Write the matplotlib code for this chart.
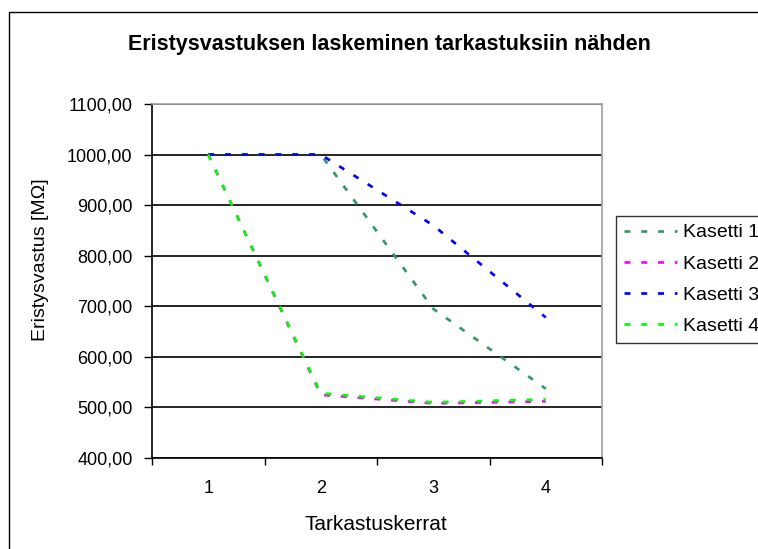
import matplotlib
matplotlib.use("Agg")
import matplotlib.pyplot as plt
from matplotlib.patches import Rectangle
from matplotlib.ticker import FuncFormatter, FixedLocator

plt.rcParams["font.family"] = ["Liberation Sans", "DejaVu Sans"]

# data
kerrat = [1, 2, 3, 4]
kasetti1 = [1000, 1000, 695, 537]
kasetti2 = [1000, 525, 508, 512]
kasetti3 = [1000, 1000, 860, 678]
kasetti4 = [1000, 528, 510, 516]
series = [("Kasetti 1", kasetti1, "#339966"),
          ("Kasetti 2", kasetti2, "#ff00ff"),
          ("Kasetti 3", kasetti3, "#0000ff"),
          ("Kasetti 4", kasetti4, "#00ff00")]

W, H = 758, 549
fig = plt.figure(figsize=(W / 100, H / 100), dpi=100)
fig.patches.append(Rectangle((9 / W, 1 - 12 / H), 1, -1, transform=fig.transFigure,
                             fill=False, edgecolor="#000000", linewidth=1.0))

ax = fig.add_axes([152 / W, 1 - 458 / H, 450 / W, 354 / H])
for name, vals, col in series:
    ax.plot(kerrat, vals, linestyle=(0, (2.2, 4.0)), color=col, linewidth=1.95,
            label=name, dash_capstyle="butt")

ax.set_xlim(0.5, 4.5)
ax.set_ylim(400, 1100)
ax.set_yticks(range(400, 1101, 100))
ax.yaxis.set_major_formatter(FuncFormatter(lambda v, p: f"{v:.2f}".replace(".", ",")))
ax.grid(axis="y", color="black", linewidth=1.2)
ax.set_axisbelow(True)

ax.xaxis.set_major_locator(FixedLocator([0.5, 1.5, 2.5, 3.5, 4.5]))
ax.xaxis.set_minor_locator(FixedLocator(kerrat))
ax.set_xticklabels([])
ax.set_xticklabels([str(k) for k in kerrat], minor=True)
ax.tick_params(axis="x", which="minor", length=0, pad=16, labelsize=13)
ax.tick_params(axis="x", which="major", length=5, width=1, direction="out")
ax.tick_params(axis="y", length=6, width=1, direction="out", pad=8, labelsize=13)

for s in ("left", "bottom"):
    ax.spines[s].set_color("black")
    ax.spines[s].set_linewidth(1.2)
for s in ("top", "right"):
    ax.spines[s].set_color("#a0a0a0")
    ax.spines[s].set_linewidth(1.2)

ax.set_xlabel("Tarkastuskerrat", fontsize=15)
ax.xaxis.set_label_coords((376 - 152) / 450, (458 - 515) / 354)
ax.set_ylabel("Eristysvastus [MΩ]", fontsize=14)
ax.yaxis.set_label_coords((49 - 152) / 450, (458 - 260) / 354)
fig.text(389 / W, 1 - 50 / H, "Eristysvastuksen laskeminen tarkastuksiin nähden",
         ha="center", va="baseline", fontsize=15.5, fontweight="bold")

leg = fig.legend(loc="upper left", bbox_to_anchor=(616 / W, 1 - 216 / H),
                 frameon=True, fancybox=False, fontsize=14, handlelength=2.75,
                 handletextpad=0.3, labelspacing=0.7, borderpad=0.4,
                 borderaxespad=0)
leg.get_frame().set_edgecolor("black")
leg.get_frame().set_linewidth(1.0)

fig.savefig("out.png", dpi=100)
